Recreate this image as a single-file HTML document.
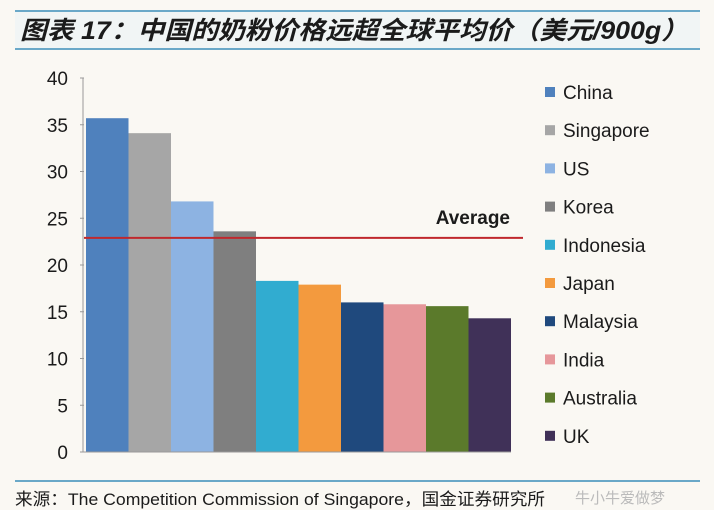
<!DOCTYPE html>
<html><head><meta charset="utf-8"><style>
body{margin:0;background:#faf8f3;}
svg{display:block;font-family:"Liberation Sans","Noto Sans CJK SC",sans-serif;}
</style></head><body>
<svg id="c" width="714" height="510">
<rect x="0" y="0" width="714" height="510" fill="#faf8f3"/>
<rect x="15" y="11" width="685" height="38" fill="#f1f5f5"/>
<line x1="15" y1="11" x2="700" y2="11" stroke="#6aa8c8" stroke-width="2"/>
<line x1="15" y1="49" x2="700" y2="49" stroke="#6aa8c8" stroke-width="2"/>
<text x="20" y="39" font-size="25" font-weight="bold" font-style="italic" fill="#1b1b1b" textLength="668" lengthAdjust="spacingAndGlyphs">图表 17：中国的奶粉价格远超全球平均价（美元/900g）</text>
<g id="plot"></g>
<line x1="15" y1="481" x2="700" y2="481" stroke="#6aa8c8" stroke-width="2"/>
<text x="15" y="505" font-size="17" fill="#1b1b1b" textLength="530" lengthAdjust="spacingAndGlyphs">来源：The Competition Commission of Singapore，国金证券研究所</text>
<text x="575" y="503" font-size="15" fill="#bbbbbb">牛小牛爱做梦</text>
</svg>
<script>
const categories=["China","Singapore","US","Korea","Indonesia","Japan","Malaysia","India","Australia","UK"];
const values=[35.7,34.1,26.8,23.6,18.3,17.9,16.0,15.8,15.6,14.3];
const colors=["#4f81bd","#a6a6a6","#8db3e2","#7f7f7f","#31acd0","#f39a3e","#1f497d","#e6979a","#5b7a2b","#403158"];
const yTicks=[0,5,10,15,20,25,30,35,40];
const averageValue=22.9;
const averageLabel="Average";
const ns="http://www.w3.org/2000/svg";
const g=document.getElementById("plot");
const x0=86,bw=42.5,yBase=452,yTop=78,yMax=40;
const y=v=>yBase-(v/yMax)*(yBase-yTop);
const xb=i=>x0+i*bw;
function mk(t,a){const e=document.createElementNS(ns,t);for(const k in a)e.setAttribute(k,a[k]);g.appendChild(e);return e;}
yTicks.forEach(v=>{
 const t=mk("text",{x:68,y:y(v)+7,"font-size":19,"text-anchor":"end",fill:"#1b1b1b"});
 t.textContent=v;
 
 
 const l=mk("line",{x1:80,x2:84,y1:y(v),y2:y(v),stroke:"#999"});
 
 
});
const ax=mk("line",{x1:83,x2:83,y1:yTop,y2:yBase,stroke:"#999"});


values.forEach((v,i)=>{
 const r=mk("rect",{x:xb(i),y:y(v),width:bw,height:yBase-y(v),fill:colors[i]});
 
 
});
const xa=mk("line",{x1:83,x2:xb(values.length),y1:yBase,y2:yBase,stroke:"#999"});


const av=mk("line",{x1:84,x2:523,y1:y(averageValue),y2:y(averageValue),stroke:"#c0282d","stroke-width":2});


const at=mk("text",{x:510,y:y(averageValue)-14,"font-size":19,"font-weight":"bold","text-anchor":"end",fill:"#1b1b1b"});
at.textContent=averageLabel;


categories.forEach((c,i)=>{
 const yy=92+i*38.2;
 const s=mk("rect",{x:545,y:yy-5,width:10,height:10,fill:colors[i]});
 
 
 const t=mk("text",{x:563,y:yy+7,"font-size":19,fill:"#1b1b1b"});
 t.textContent=c;
 
 
});
</script>
</body></html>
